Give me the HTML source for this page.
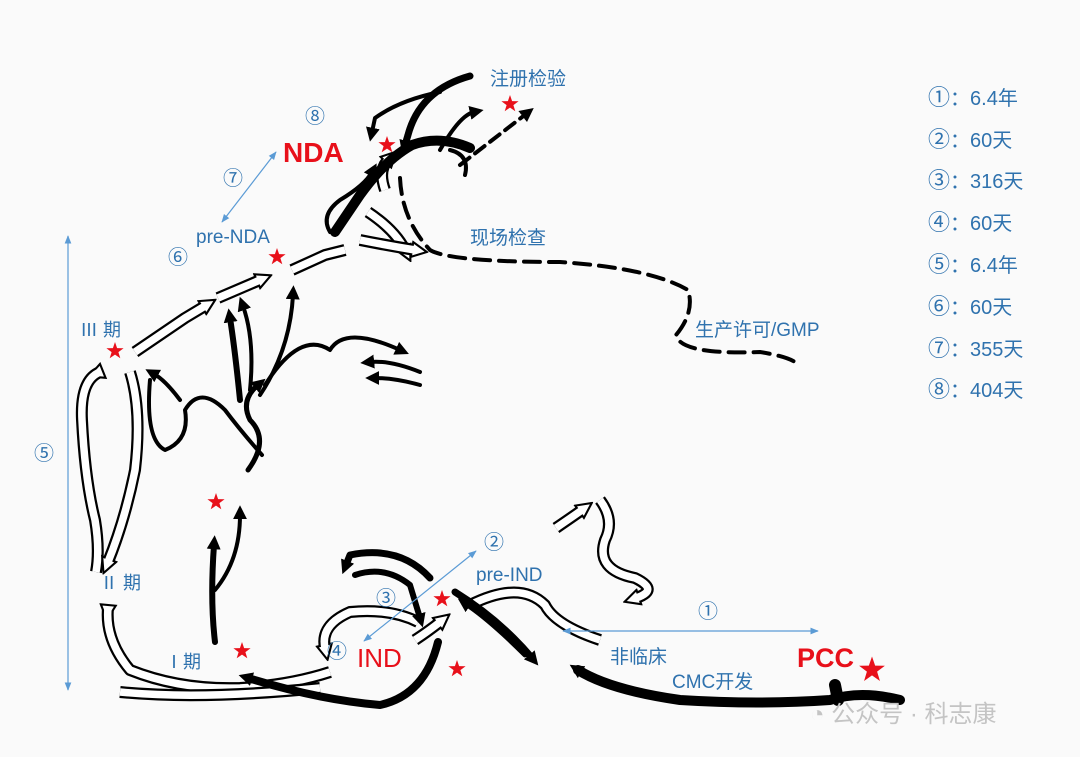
<!DOCTYPE html>
<html><head><meta charset="utf-8">
<style>
body{margin:0;background:#fff}
svg{display:block}
.t{font-family:"Liberation Sans","Noto Sans CJK SC",sans-serif;fill:#2f72ae}
.c{font-family:"Noto Sans CJK SC","DejaVu Sans",sans-serif}
.b{fill:none;stroke:#000;stroke-linecap:round;stroke-linejoin:round}
.ho{fill:none;stroke:#000;stroke-width:12;stroke-linejoin:round}
.hi{fill:none;stroke:#fff;stroke-width:7.5;stroke-linejoin:round}
</style></head><body>
<svg width="1080" height="757" viewBox="0 0 1080 757" xmlns="http://www.w3.org/2000/svg" xmlns:xlink="http://www.w3.org/1999/xlink">
<defs>
<marker id="ab" viewBox="0 0 10 10" refX="3" refY="5" markerUnits="userSpaceOnUse" markerWidth="14" markerHeight="14" orient="auto"><path d="M0,0 L10,5 L0,10 z" fill="#000"/></marker>
<marker id="hb" viewBox="0 0 12 12" refX="3" refY="6" markerUnits="userSpaceOnUse" markerWidth="18" markerHeight="18" orient="auto"><path d="M1,1 L11,6 L1,11 z" fill="#fff" stroke="#000" stroke-width="1.4"/></marker>
<marker id="bl" viewBox="0 0 10 10" refX="9" refY="5" markerWidth="7" markerHeight="7" orient="auto-start-reverse"><path d="M0,1 L10,5 L0,9 z" fill="#5b9bd5"/></marker>
<path id="s" d="M0,-9 L2.1,-2.9 8.6,-2.8 3.4,1.1 5.3,7.3 0,3.6 -5.3,7.3 -3.4,1.1 -8.6,-2.8 -2.1,-2.9z" fill="#e8101a"/>
<path id="h1" d="M135,352 L185,318 L205,306"/>
<path id="h2" d="M218,298 L260,280"/>
<path id="h3" d="M292,270 L325,255 L345,250"/>
<path id="h4" d="M100,372 Q80,380 82,420 Q85,480 95,520 Q100,550 96,572"/>
<path id="h5" d="M130,372 Q142,410 135,470 Q125,520 108,562"/>
<path id="h6" d="M108,608 Q105,640 130,670 Q180,690 240,688 Q290,685 330,672"/>
<path id="h7" d="M120,692 Q200,700 320,688"/>
<path id="h8" d="M418,622 Q390,608 350,612 Q320,625 325,648"/>
<path id="h9" d="M415,640 Q430,630 440,622"/>
<path id="h10" d="M556,528 Q575,515 582,510"/>
<path id="h11" d="M600,500 Q615,520 605,540 Q595,570 635,578 Q660,590 636,598"/>
<path id="h12" d="M470,605 Q520,580 545,605 Q555,625 600,640"/>
<path id="h13" d="M368,212 Q395,230 405,250"/>
<path id="h14" d="M360,240 Q385,245 415,250"/>
<path id="h15" d="M385,190 Q378,170 388,160"/>
</defs>
<rect width="1080" height="757" fill="#fafafa"/>

<g>
<use xlink:href="#h1" class="ho" marker-end="url(#hb)"/><use xlink:href="#h1" class="hi"/>
<use xlink:href="#h2" class="ho" marker-end="url(#hb)"/><use xlink:href="#h2" class="hi"/>
<use xlink:href="#h3" class="ho"/><use xlink:href="#h3" class="hi"/>
<use xlink:href="#h4" class="ho" marker-start="url(#hb)"/><use xlink:href="#h4" class="hi"/>
<use xlink:href="#h5" class="ho" marker-end="url(#hb)"/><use xlink:href="#h5" class="hi"/>
<use xlink:href="#h6" class="ho" marker-start="url(#hb)"/><use xlink:href="#h6" class="hi"/>
<use xlink:href="#h7" class="ho"/><use xlink:href="#h7" class="hi"/>
<use xlink:href="#h8" class="ho" marker-end="url(#hb)"/><use xlink:href="#h8" class="hi"/>
<use xlink:href="#h9" class="ho" marker-end="url(#hb)"/><use xlink:href="#h9" class="hi"/>
<use xlink:href="#h10" class="ho" marker-end="url(#hb)"/><use xlink:href="#h10" class="hi"/>
<use xlink:href="#h11" class="ho" marker-end="url(#hb)"/><use xlink:href="#h11" class="hi"/>
<use xlink:href="#h12" class="ho"/><use xlink:href="#h12" class="hi"/>
<use xlink:href="#h13" class="ho" marker-end="url(#hb)"/><use xlink:href="#h13" class="hi"/>
<use xlink:href="#h14" class="ho" marker-end="url(#hb)"/><use xlink:href="#h14" class="hi"/>
<use xlink:href="#h15" class="ho" marker-end="url(#hb)"/><use xlink:href="#h15" class="hi"/>
</g>

<g class="b">
<path d="M900,700 Q860,690 830,700 Q760,705 680,700 Q610,690 578,670" stroke-width="10" marker-end="url(#ab)"/>
<path d="M838,700 L835,685" stroke-width="12"/>
<path d="M438,642 Q425,695 380,705 Q320,700 248,678" stroke-width="8" marker-end="url(#ab)"/>
<path d="M215,642 Q210,600 214,545" stroke-width="6" marker-end="url(#ab)"/>
<path d="M215,590 Q240,560 240,515" stroke-width="4" marker-end="url(#ab)"/>
<path d="M430,578 Q400,545 350,555 L346,565" stroke-width="7" marker-end="url(#ab)"/>
<path d="M355,575 Q385,565 410,585 L420,618" stroke-width="6" marker-end="url(#ab)"/>
<path d="M455,592 Q500,620 532,658" stroke-width="7" marker-end="url(#ab)"/>
<path d="M525,655 Q490,620 466,604" stroke-width="5" marker-end="url(#ab)"/>
<path d="M248,470 Q270,440 250,420 Q240,400 258,385" stroke-width="5" marker-end="url(#ab)"/>
<path d="M150,380 Q145,440 165,450 Q190,440 185,410 Q200,385 225,410 Q240,430 262,455" stroke-width="4"/>
<path d="M180,400 Q165,380 154,374" stroke-width="4" marker-end="url(#ab)"/>
<path d="M240,400 Q235,350 230,318" stroke-width="6" marker-end="url(#ab)"/>
<path d="M250,390 Q255,340 243,306" stroke-width="4" marker-end="url(#ab)"/>
<path d="M260,395 Q290,350 293,295" stroke-width="4" marker-end="url(#ab)"/>
<path d="M265,385 Q300,330 330,350 Q345,325 400,350" stroke-width="4" marker-end="url(#ab)"/>
<path d="M420,372 Q390,360 370,362" stroke-width="4" marker-end="url(#ab)"/>
<path d="M420,385 Q395,378 375,378" stroke-width="4" marker-end="url(#ab)"/>
<path d="M335,232 L360,195 Q385,160 412,145 Q440,135 470,148" stroke-width="10"/>
<path d="M330,232 Q320,215 340,200 Q365,185 372,172" stroke-width="4" marker-end="url(#ab)"/>
<path d="M470,76 Q420,90 408,135 L405,145" stroke-width="7" marker-end="url(#ab)"/>
<path d="M440,92 Q400,100 375,118 L372,132" stroke-width="4" marker-end="url(#ab)"/>
<path d="M440,150 Q460,115 474,112" stroke-width="4" marker-end="url(#ab)"/>
<path d="M450,150 Q470,155 465,175" stroke-width="4"/>
<path d="M460,165 L526,114" stroke-width="4" stroke-dasharray="12,7" marker-end="url(#ab)"/>
<path d="M400,178 Q402,220 430,250 Q450,262 560,262 Q650,268 688,290 Q695,312 676,335 Q680,355 760,352 Q785,356 795,362" stroke-width="4" stroke-dasharray="16,9"/>
</g>

<g stroke="#5b9bd5" stroke-width="1.2" fill="none">
<line x1="222" y1="222" x2="276" y2="152" marker-start="url(#bl)" marker-end="url(#bl)"/>
<line x1="68" y1="236" x2="68" y2="690" marker-start="url(#bl)" marker-end="url(#bl)"/>
<line x1="364" y1="641" x2="476" y2="551" marker-start="url(#bl)" marker-end="url(#bl)"/>
<line x1="563" y1="631" x2="818" y2="631" marker-start="url(#bl)" marker-end="url(#bl)"/>
</g>

<use xlink:href="#s" x="510" y="104"/>
<use xlink:href="#s" x="387" y="145"/>
<use xlink:href="#s" x="277" y="257"/>
<use xlink:href="#s" x="115" y="351"/>
<use xlink:href="#s" x="216" y="502"/>
<use xlink:href="#s" x="242" y="651"/>
<use xlink:href="#s" x="442" y="599"/>
<use xlink:href="#s" x="457" y="669"/>
<g transform="translate(872,670) scale(1.5)"><use xlink:href="#s"/></g>

<text class="t" x="490" y="85" font-size="19">注册检验</text>
<text class="t" x="470" y="244" font-size="19">现场检查</text>
<text class="t" x="695" y="336" font-size="19">生产许可/GMP</text>
<text class="t c" x="305" y="123" font-size="20">⑧</text>
<text class="t c" x="223" y="185" font-size="20">⑦</text>
<text class="t c" x="168" y="264" font-size="20">⑥</text>
<text class="t" x="196" y="243" font-size="19">pre-NDA</text>
<text x="283" y="162" font-size="28" font-weight="bold" fill="#e8101a" font-family="Liberation Sans,sans-serif">NDA</text>
<text class="t" x="80" y="336" font-size="18">Ⅲ 期</text>
<text class="t" x="100" y="589" font-size="18">Ⅱ 期</text>
<text class="t" x="165" y="668" font-size="18">Ⅰ期</text>
<text class="t c" x="34" y="460" font-size="20">⑤</text>
<text class="t c" x="484" y="549" font-size="20">②</text>
<text class="t" x="476" y="581" font-size="19">pre-IND</text>
<text class="t c" x="376" y="605" font-size="20">③</text>
<text class="t c" x="327" y="658" font-size="20">④</text>
<text x="357" y="667" font-size="26" fill="#e8101a" font-family="Liberation Sans,sans-serif">IND</text>
<text class="t c" x="698" y="618" font-size="20">①</text>
<text class="t" x="610" y="663" font-size="19">非临床</text>
<text class="t" x="672" y="688" font-size="19">CMC开发</text>
<text x="797" y="667" font-size="27" font-weight="bold" fill="#e8101a" font-family="Liberation Sans,sans-serif">PCC</text>
<text x="810" y="722" font-size="24" fill="#c4c4c4" font-family="Liberation Sans,Noto Sans CJK SC,sans-serif">◔ 公众号 · 科志康</text>

<g class="t" font-size="20">
<text x="928" y="105"><tspan class="c" font-size="22">①</tspan>：6.4年</text>
<text x="928" y="147"><tspan class="c" font-size="22">②</tspan>：60天</text>
<text x="928" y="188"><tspan class="c" font-size="22">③</tspan>：316天</text>
<text x="928" y="230"><tspan class="c" font-size="22">④</tspan>：60天</text>
<text x="928" y="272"><tspan class="c" font-size="22">⑤</tspan>：6.4年</text>
<text x="928" y="314"><tspan class="c" font-size="22">⑥</tspan>：60天</text>
<text x="928" y="356"><tspan class="c" font-size="22">⑦</tspan>：355天</text>
<text x="928" y="397"><tspan class="c" font-size="22">⑧</tspan>：404天</text>
</g>
</svg>
</body></html>
